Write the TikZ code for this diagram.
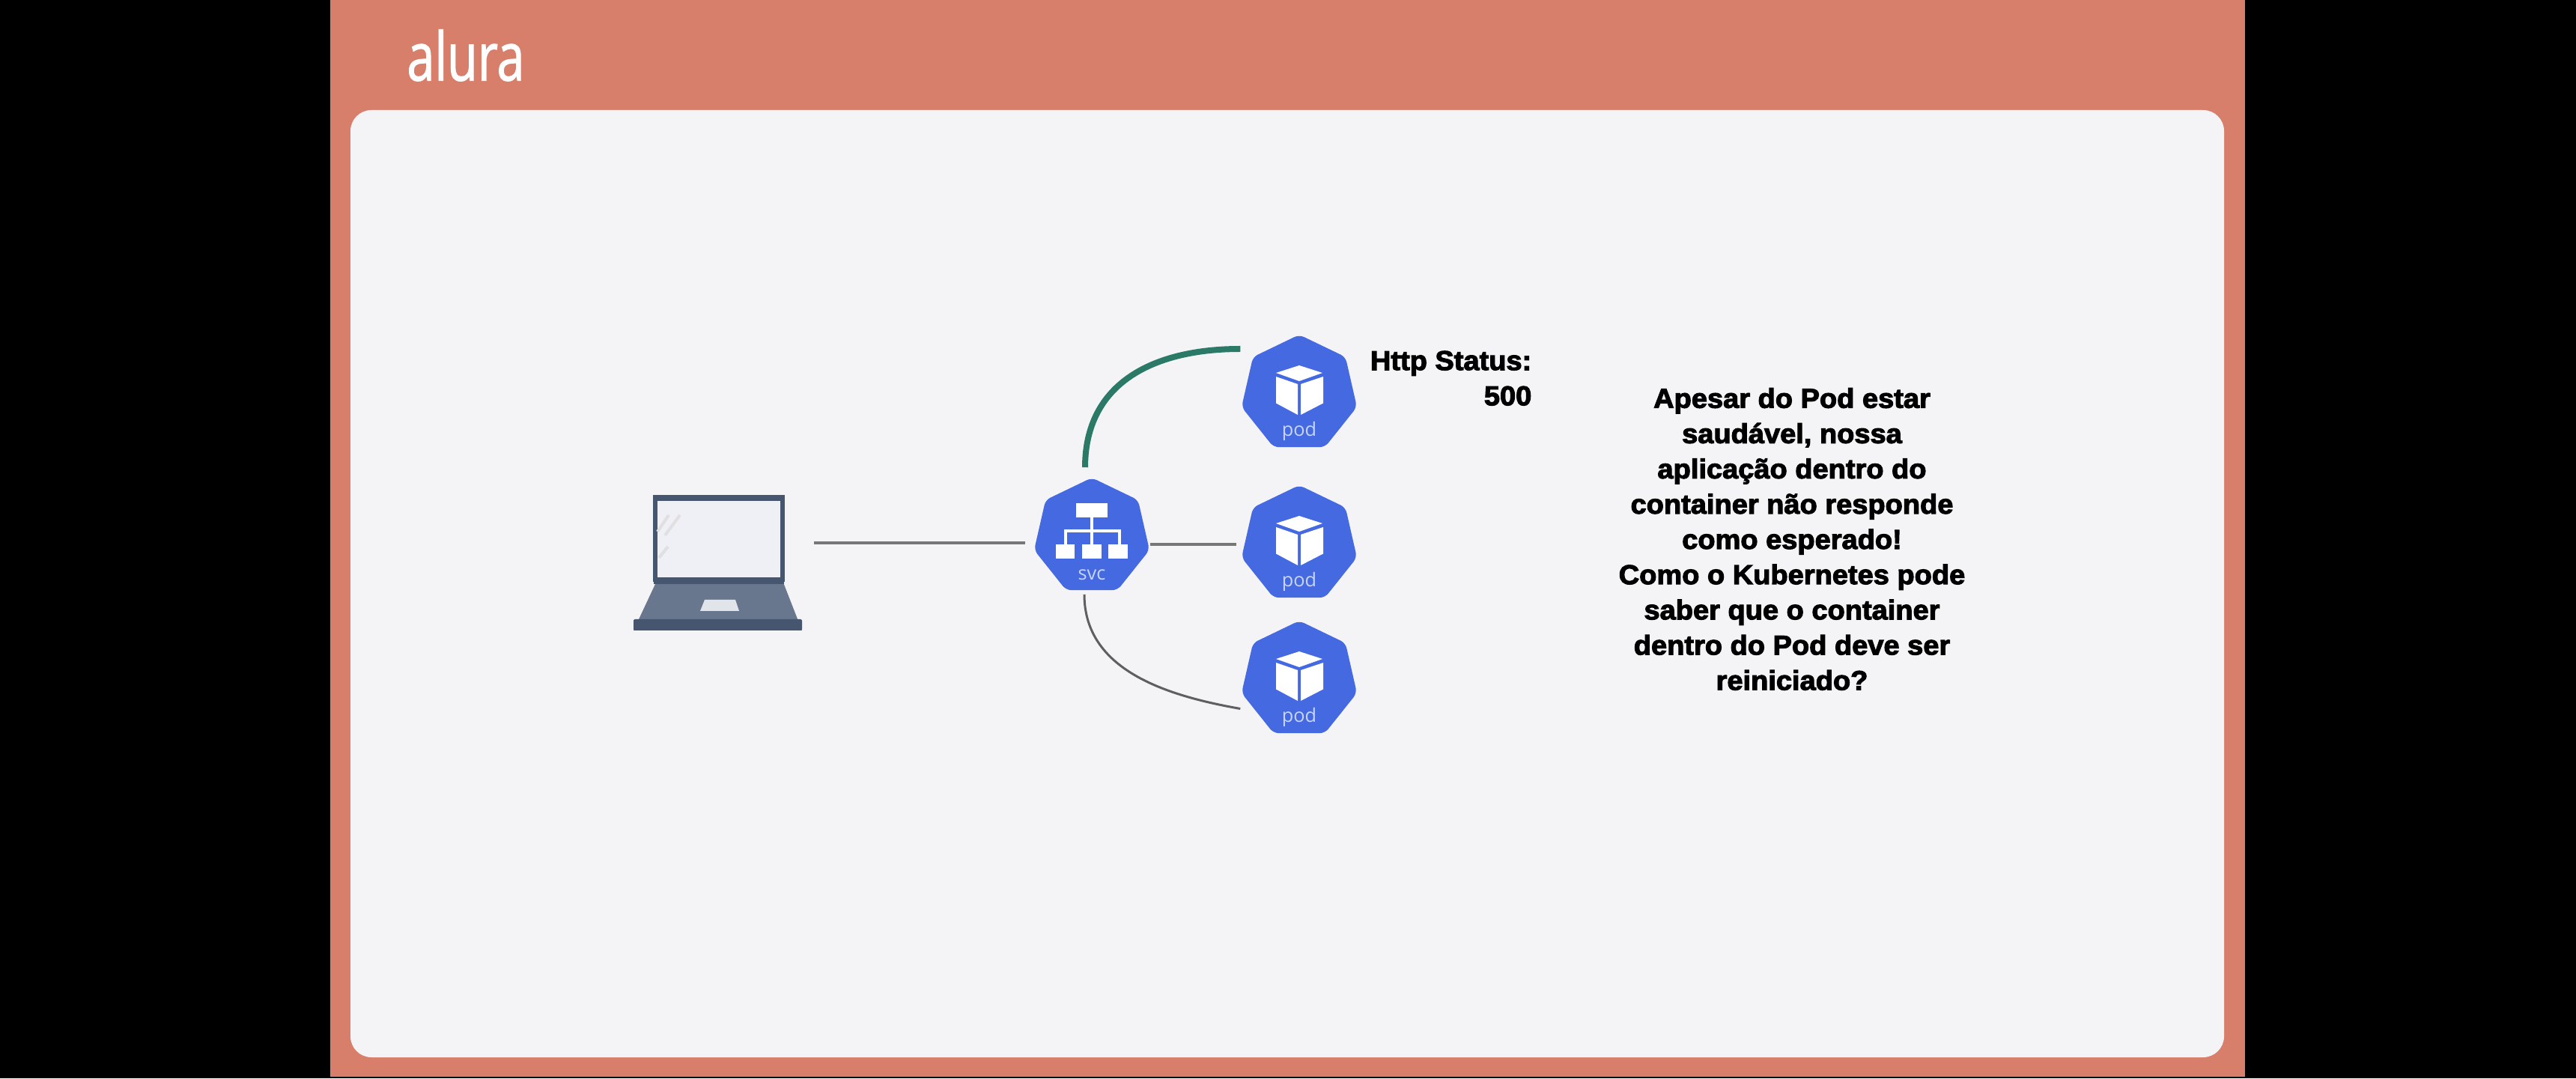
\documentclass[tikz,border=0pt]{standalone}
\usepackage{fontspec}
\usepackage{xcolor}
\usetikzlibrary{shapes.geometric, calc, positioning}
\setmainfont{Liberation Sans}
\newfontfamily\notefont[FakeBold=3,FakeStretch=1.04]{Liberation Sans Bold}
\newfontfamily\iconfont{Open Sans}
\newfontfamily\logofont[FakeBold=1.2,FakeStretch=.74]{Open Sans}
\definecolor{framecol}{HTML}{D77F6B}
\definecolor{panelcol}{HTML}{F4F4F6}
\definecolor{screencol}{HTML}{EEF0F6}
\definecolor{kubeblue}{HTML}{4469E0}
\definecolor{labelblue}{HTML}{C9D5F6}
\definecolor{wiregray}{HTML}{777777}
\definecolor{wiregreen}{HTML}{2B7A68}
\definecolor{bezelcol}{HTML}{46566F}
\definecolor{basecol}{HTML}{68778E}
\tikzset{
  hept/.style={regular polygon, regular polygon sides=7, minimum size=1.58cm, inner sep=0pt, fill=kubeblue, rounded corners=.07cm},
  iconlabel/.style={text=labelblue, font=\iconfont\fontsize{7.2}{8}\selectfont, inner sep=0pt},
  notetext/.style={font=\notefont\fontsize{10.4}{13.4}\selectfont, align=center, text=black, inner sep=0pt},
  linkline/.style={draw=wiregray, line width=.035cm},
  greenline/.style={draw=wiregreen, line width=.08cm},
}
% one pod: hexagon-like body, cube and label
\newcommand{\podicon}[2]{
  \node[hept] (#1) at (#2) {};
  \begin{scope}[shift={(#1.center)}]
    \fill[white] (0,.38) -- (.31,.28) -- (0,.17) -- (-.31,.28) -- cycle;
    \fill[white] (-.31,.23) -- (-.02,.13) -- (-.02,-.28) -- (-.31,-.125) -- cycle;
    \fill[white] (.02,.13) -- (.32,.23) -- (.32,-.125) -- (.02,-.28) -- cycle;
    \node[iconlabel] (#1label) at (0,-.5) {pod};
  \end{scope}
}
\begin{document}
\begin{tikzpicture}
  \fill[black] (0,0) rectangle (34.4,14.4);
  \fill[framecol] (4.41,.02) rectangle (29.98,14.4);
  \fill[panelcol, rounded corners=.28cm] (4.68,.28) rectangle (29.7,12.93);
  \node[text=white, font=\logofont\fontsize{25.5}{26}\selectfont, inner sep=0pt] (logo) at (6.22,13.66) {alura};

  % Laptop
  \fill[basecol] (8.76,6.62) -- (10.46,6.62) -- (10.71,5.98) -- (8.46,5.98) -- cycle;
  \fill[bezelcol, rounded corners=.02cm] (8.46,6.13) rectangle (10.71,5.98);
  \node[draw=bezelcol, fill=screencol, line width=.06cm, minimum width=1.7cm, minimum height=1.1cm, inner sep=0pt] (laptop) at (9.6,7.21) {};
  \fill[bezelcol] (8.73,7.79) rectangle (10.47,7.71);
  \fill[bezelcol] (8.73,6.67) rectangle (10.47,6.6);
  \fill[white!80!basecol] (9.41,6.39) -- (9.82,6.39) -- (9.87,6.24) -- (9.35,6.24) -- cycle;
  \draw[black!12, line width=.04cm] (8.93,7.52) -- (8.78,7.3) (9.08,7.52) -- (8.88,7.25) (8.92,7.1) -- (8.8,6.95);

  % Service
  \node[hept] (svc) at (14.58,7.23) {};
  \begin{scope}[shift={(svc.center)}]
    \fill[white] (-.21,.45) rectangle (.21,.26);
    \draw[white, line width=.04cm] (0,.26) -- (0,-.1);
    \draw[white, line width=.04cm] (-.35,-.1) -- (-.35,.08) -- (.37,.08) -- (.37,-.1);
    \fill[white] (-.48,-.1) rectangle (-.23,-.29);
    \fill[white] (-.13,-.1) rectangle (.13,-.29);
    \fill[white] (.22,-.1) rectangle (.48,-.29);
    \node[iconlabel] (svclabel) at (0,-.51) {svc};
  \end{scope}

  % Pods
  \podicon{podtop}{17.35,9.14}
  \podicon{podmid}{17.35,7.13}
  \podicon{podlow}{17.35,5.32}

  % Connections
  \coordinate (svcport) at ([yshift=-.08cm]svc.center);
  \draw[linkline, shorten <=.39cm, shorten >=.15cm] (laptop.east |- svcport) -- (svc.west |- svcport);
  \draw[linkline, shorten <=.04cm, shorten >=.1cm] (svc.east |- podmid) -- (podmid.west);
  \draw[greenline] ([xshift=-.09cm,yshift=.13cm]svc.north) to[out=90,in=180,looseness=1.12] ([xshift=-.05cm,yshift=.6cm]podtop.west);
  \draw[wiregray!80!black, line width=.03cm] ([xshift=-.1cm,yshift=-.05cm]svc.south) to[out=-90,in=170] ([xshift=-.05cm,yshift=-.385cm]podlow.west);

  % Text
  \node[notetext, align=right, anchor=north east] (status) at (20.46,9.72) {Http Status:\\500};
  \node[notetext] (question) at (23.93,7.2) {Apesar do Pod estar\\saudável, nossa\\aplicação dentro do\\container não responde\\como esperado!\\Como o Kubernetes pode\\saber que o container\\dentro do Pod deve ser\\reiniciado?};
\end{tikzpicture}
\end{document}
